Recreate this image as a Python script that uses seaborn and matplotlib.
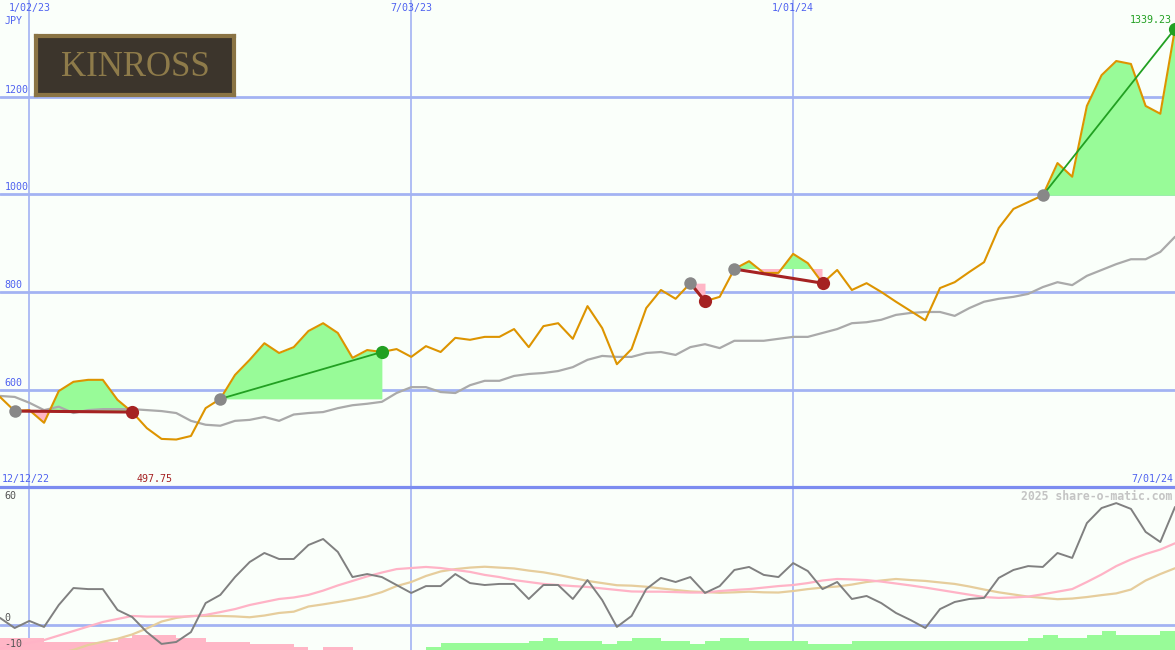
import matplotlib
matplotlib.use('Agg')
import matplotlib.pyplot as plt
import matplotlib.transforms as mtransforms
import numpy as np
import pandas as pd
import seaborn as sns

# weekly closes (JPY), one point per week, 12/19/22 .. 7/01/24
price = [585, 556, 558, 532, 597, 616, 620, 620, 579, 554,
         521, 499, 497.75, 505, 562, 581, 630, 661, 695, 675,
         687, 720, 736, 716, 665, 681, 677, 683, 667, 689,
         677, 706, 702, 708, 708, 724, 687, 730, 736, 704,
         771, 726, 652, 683, 767, 804, 786, 818, 781, 790,
         847, 863, 839, 839, 878, 859, 818, 845, 804, 818,
         800, 780, 761, 742, 808, 820, 841, 861, 931, 970,
         984, 998, 1064, 1036, 1181, 1244, 1273, 1267, 1181, 1165,
         1339.23]

# long moving average (grey line)
ma_long = [587, 585, 573, 558, 565, 552, 558, 560, 560, 560,
           558, 556, 552, 536, 528, 526, 536, 538, 544, 536,
           549, 552, 554, 562, 568, 571, 575, 593, 605, 605,
           595, 593, 609, 618, 618, 628, 632, 634, 638, 646,
           661, 669, 667, 667, 675, 677, 671, 687, 693, 685,
           700, 700, 700, 704, 708, 708, 716, 724, 736, 738,
           743, 753, 757, 759, 759, 751, 767, 780, 786, 790,
           796, 810, 820, 814, 833, 845, 857, 867, 867, 882,
           913]

# lower panel: oscillator and its two averages
osc = [3.3, -1.4, 1.9, -0.9, 9.3, 17.2, 16.7, 16.7, 7.0, 3.7,
       -3.3, -8.8, -7.9, -3.3, 10.2, 14.0, 22.3, 29.3, 33.5, 30.7,
       30.7, 37.2, 40.0, 34.0, 22.3, 23.7, 22.3, 18.6, 14.9, 18.1,
       18.1, 23.7, 19.5, 18.6, 19.1, 19.1, 12.1, 18.6, 18.6, 12.1,
       20.9, 11.6, -0.9, 4.2, 16.7, 21.9, 20.0, 22.3, 14.9, 18.1,
       25.6, 27.0, 23.3, 22.3, 28.8, 25.1, 16.7, 20.0, 12.1, 13.5,
       10.2, 5.6, 2.3, -1.4, 7.4, 10.7, 12.1, 12.6, 21.9, 25.6,
       27.4, 27.0, 33.5, 31.2, 47.4, 54.4, 56.7, 54.0, 43.3, 38.6,
       54.9]

osc_fast = [-11.0, -9.5, -8.3, -7.0, -4.9, -2.8, -0.7, 1.4, 2.8, 4.2,
            3.9, 3.9, 3.9, 4.0, 4.7, 6.0, 7.4, 9.3, 10.7, 12.1,
            12.8, 14.0, 16.0, 18.4, 20.5, 22.6, 24.4, 26.0, 26.5, 27.0,
            26.5, 25.6, 24.7, 23.3, 22.3, 20.9, 20.0, 19.1, 18.6, 18.1,
            17.7, 17.0, 16.3, 15.6, 15.5, 15.5, 15.3, 15.1, 15.1, 15.8,
            16.3, 16.7, 17.4, 18.1, 18.6, 19.5, 20.7, 21.4, 21.2, 20.9,
            20.2, 19.3, 18.4, 17.4, 16.3, 15.2, 14.1, 13.0, 12.6, 12.8,
            13.2, 14.3, 15.5, 16.7, 20.0, 23.5, 27.4, 30.5, 33.0, 35.1,
            38.0]

osc_slow = [-19.5, -18.0, -16.5, -14.8, -13.2, -11.6, -9.3, -7.8, -6.4, -4.4,
            -1.6, 1.6, 3.3, 4.2, 4.2, 4.2, 4.0, 3.6, 4.4, 5.6,
            6.2, 8.6, 9.6, 10.7, 11.9, 13.3, 15.3, 18.1, 20.0, 22.8,
            24.9, 26.0, 26.7, 27.1, 26.7, 26.3, 25.3, 24.5, 23.3, 21.9,
            20.5, 19.5, 18.5, 18.3, 17.8, 17.0, 16.3, 15.6, 15.3, 15.0,
            15.2, 15.5, 15.2, 15.1, 15.8, 16.7, 17.4, 17.9, 18.8, 20.0,
            20.7, 21.4, 20.9, 20.5, 19.8, 19.1, 17.9, 16.5, 15.2, 14.2,
            13.2, 12.6, 12.0, 12.3, 13.0, 13.9, 14.7, 16.5, 20.7, 23.7,
            26.4]

# histogram along the bottom (negative = pink, positive = green)
hist = [-5.6, -5.6, -5.7, -3.9, -3.9, -3.9, -3.9, -3.9, -5.6, -7.0,
        -7.0, -7.0, -5.6, -5.6, -3.9, -3.9, -3.9, -2.8, -2.8, -2.8,
        -1.5, 0, -1.5, -1.5, 0, 0, 0, 0, 0, 1.5,
        3.1, 3.1, 3.1, 3.1, 3.1, 3.1, 4.2, 5.7, 4.2, 4.2,
        4.2, 2.9, 4.2, 5.7, 5.7, 4.2, 4.2, 2.9, 4.2, 5.7,
        5.7, 4.2, 4.2, 4.2, 4.2, 2.9, 2.9, 2.9, 4.2, 4.2,
        4.2, 4.2, 4.2, 4.2, 4.2, 4.2, 4.2, 4.2, 4.2, 4.2,
        5.7, 7.0, 5.7, 5.7, 7.0, 8.8, 7.0, 7.0, 7.0, 8.8,
        8.8]

# signals: entry week / exit week
trade_in = [1, 15, 47, 50, 71]
trade_out = [9, 26, 48, 56, 80]

date_ticks = [2, 28, 54]
date_labels = ['1/02/23', '7/03/23', '1/01/24']
price_ticks = [600, 800, 1000, 1200]
osc_ticks = [60, 0, -10]

BG = '#fafffa'
GRID = '#a3b3f3'
BLUE = '#4f62f0'
ORANGE = '#dd9400'
GFILL = '#98fb98'
PFILL = '#ffb6c6'
RED = '#a52222'
GREEN = '#22a022'

df = pd.DataFrame({'week': np.arange(len(price)), 'price': price, 'ma': ma_long,
                   'osc': osc, 'fast': osc_fast, 'slow': osc_slow, 'hist': hist})

sns.set_theme(style='white')
plt.rcParams['font.family'] = ['DejaVu Sans Mono', 'DejaVu Sans']
plt.rcParams['font.size'] = 7.2

W, H = 1175, 650
fig = plt.figure(figsize=(W / 100, H / 100), dpi=100)
fig.patch.set_facecolor(BG)

split = 163 / H
ax = fig.add_axes([0, split, 1, 1 - split])
ax2 = fig.add_axes([0, 0, 1, split])
for a in (ax, ax2):
    a.set_facecolor(BG)
    a.set_xticks([])
    a.set_yticks([])
    for s in a.spines.values():
        s.set_visible(False)
    a.set_xlim(0, len(price) - 1)
    for d in date_ticks:
        a.axvline(d, color=GRID, lw=1.2, zorder=0)

# ---- price panel ----
ax.set_ylim(400.5, 1398)
for v in price_ticks:
    ax.axhline(v, color=GRID, lw=2, zorder=0)

for i, o in zip(trade_in, trade_out):
    seg = df.iloc[i:o + 1]
    base = price[i]
    ax.fill_between(seg.week, seg.price, base, where=seg.price >= base,
                    interpolate=True, color=GFILL, lw=0, zorder=1)
    ax.fill_between(seg.week, seg.price, base, where=seg.price <= base,
                    interpolate=True, color=PFILL, lw=0, zorder=1)

sns.lineplot(data=df, x='week', y='ma', ax=ax, color='#aaaaaa', lw=1.6, zorder=2)
sns.lineplot(data=df, x='week', y='price', ax=ax, color=ORANGE, lw=1.5, zorder=3)

for i, o in zip(trade_in, trade_out):
    c = GREEN if price[o] > price[i] else RED
    lw = 1.3 if c == GREEN else 2.2
    ax.plot([i, o], [price[i], price[o]], color=c, lw=lw, zorder=4)
    ax.plot(i, price[i], 'o', ms=9, color='#888888', mec='none', zorder=5)
    ax.plot(o, price[o], 'o', ms=9.5, color=c, mec='none', zorder=5, clip_on=False)

ax.set_xlabel('')
ax.set_ylabel('')

ytr = mtransforms.blended_transform_factory(ax.transAxes, ax.transData)
for v in price_ticks:
    ax.text(0.004, v + 4, str(v), transform=ytr, color=BLUE, va='bottom', ha='left')
for d, lab in zip(date_ticks, date_labels):
    ax.text(d, 1 - 8 / 487, lab, transform=mtransforms.blended_transform_factory(ax.transData, ax.transAxes),
            color=BLUE, ha='center', va='center')
ax.text(0.004, 1 - 21 / 487, 'JPY', transform=ax.transAxes, color=BLUE, va='center')
ax.text(0.0015, 8 / 487, '12/12/22', transform=ax.transAxes, color=BLUE, va='center')
ax.text(0.9985, 8 / 487, '7/01/24', transform=ax.transAxes, color=BLUE, va='center', ha='right')

kmin = int(np.argmin(price))
ax.text(kmin - 1.5, 8 / 487, f'{price[kmin]:.2f}',
        transform=mtransforms.blended_transform_factory(ax.transData, ax.transAxes),
        color=RED, ha='center', va='center')
ax.text(0.9975, 1 - 20 / 487, f'{price[-1]:.2f}', transform=ax.transAxes,
        color=GREEN, ha='right', va='center')

# logo
lax = fig.add_axes([36 / W, 1 - 95 / H, 198 / W, 59 / H])
lax.set_facecolor('#3c352c')
lax.set_xticks([])
lax.set_yticks([])
for s in lax.spines.values():
    s.set_color('#8a7444')
    s.set_linewidth(3)
lax.text(0.5, 0.47, 'KINROSS', ha='center', va='center', fontsize=25,
         family='Liberation Serif', color='#8e7b4a')

# ---- oscillator panel ----
lo, hi = -11.63, 64.19
ax2.set_ylim(lo, hi)
ax2.axhline(0, color=GRID, lw=2, zorder=0)
ax2.spines['top'].set_visible(True)
ax2.spines['top'].set_color('#7c8cf0')
ax2.spines['top'].set_linewidth(2.3)

hv = np.array(hist)
ax2.bar(df.week, np.abs(hv), width=1, align='edge', bottom=lo,
        color=np.where(hv < 0, PFILL, GFILL), lw=0, zorder=1)
sns.lineplot(data=df, x='week', y='slow', ax=ax2, color='#e6cd9c', lw=1.6, zorder=2)
sns.lineplot(data=df, x='week', y='fast', ax=ax2, color='#ffb3c6', lw=1.6, zorder=2)
sns.lineplot(data=df, x='week', y='osc', ax=ax2, color='#808080', lw=1.4, zorder=3)
ax2.set_xlabel('')
ax2.set_ylabel('')

ytr2 = mtransforms.blended_transform_factory(ax2.transAxes, ax2.transData)
ax2.text(0.004, 60, '60', transform=ytr2, color='#555555', va='center')
ax2.text(0.004, 1, '0', transform=ytr2, color='#555555', va='bottom')
ax2.text(0.004, -9, '-10', transform=ytr2, color='#555555', va='center')
ax2.text(0.998, 1 - 9 / 163, '2025 share-o-matic.com', transform=ax2.transAxes,
         color='#c4c4c4', ha='right', va='center', fontsize=8.3, fontweight='bold')

fig.savefig('out.png', dpi=100, facecolor=BG)
